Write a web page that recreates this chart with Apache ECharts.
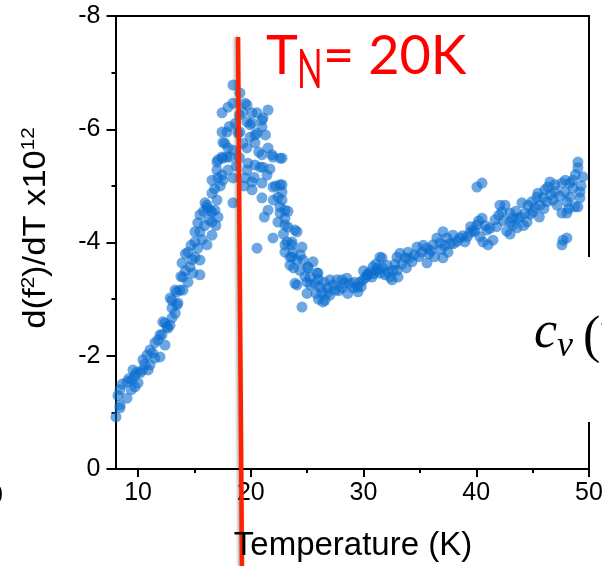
<!DOCTYPE html>
<html><head><meta charset="utf-8">
<script src="https://cdn.jsdelivr.net/npm/echarts@6/dist/echarts.min.js"></script>
<style>html,body{margin:0;padding:0;background:#fff;overflow:hidden}#c{width:602px;height:566px}</style>
</head><body><div id="c"></div>
<script>
// ---- tick labels ----
const xTicks = [10, 20, 30, 40, 50];
const xMinorTicks = [15, 25, 35, 45];

// ---- data: rising side (T in K, d(f^2)/dT x10^12) ----
const riseT = [8.04,8.40,8.40,8.40,9.02,9.02,9.46,9.73,10.00,9.55,9.90,10.44,10.90,11.06,10.79,11.50,11.06,11.95,11.50,11.77,12.39,11.95,12.12,12.57,12.39,12.65,13.01,12.83,13.01,13.45,13.01,13.54,13.45,13.99,8.22,8.60,9.20,9.40,10.20,10.60,13.72,13.28,12.85,14.43,13.99,14.87,15.49,14.61,13.90,15.49,15.05,14.43,16.12,15.05,16.56,15.05,15.49,16.56,15.49,17.09,16.38,16.82,16.12,15.94,16.12,16.56,17.00,16.56,17.45,16.56,17.09,17.53,17.00,17.98,17.00,17.09,17.45,17.53,17.89,18.16,17.98,18.42,17.53,17.45,17.89,17.45,17.98,18.42,18.42,18.42,18.42,18.87,14.20,14.80,15.30,15.70,15.90,16.30,16.80,17.30,16.90,17.70,18.10,15.80,15.30,14.70,14.20,13.80,13.30,12.20,11.30,10.40,9.70];
const riseV = [-0.92,-1.08,-1.13,-1.40,-1.25,-1.54,-1.57,-1.45,-1.52,-1.75,-1.71,-1.93,-1.75,-1.84,-2.01,-1.96,-2.10,-1.98,-2.23,-2.28,-2.19,-2.37,-2.37,-2.51,-2.58,-2.49,-2.67,-2.54,-2.84,-2.90,-2.98,-2.93,-3.13,-3.16,-1.30,-1.50,-1.60,-1.40,-1.70,-1.85,-3.16,-3.16,-3.02,-3.30,-3.39,-3.46,-3.43,-3.57,-3.64,-3.69,-3.74,-3.83,-3.96,-4.01,-4.13,-4.19,-4.19,-4.36,-4.49,-4.45,-4.57,-4.57,-4.66,-4.70,-4.61,-4.54,-4.75,-4.87,-5.19,-5.10,-5.14,-5.10,-5.28,-5.28,-5.42,-5.46,-5.51,-5.49,-5.51,-5.51,-5.67,-5.63,-5.77,-5.95,-5.95,-6.29,-6.39,-6.46,-6.78,-5.14,-4.70,-5.93,-3.50,-3.70,-3.90,-4.05,-4.30,-4.40,-4.95,-5.00,-4.30,-5.75,-6.05,-4.55,-4.35,-3.95,-3.80,-3.40,-2.75,-2.60,-2.05,-1.75,-1.65];

// ---- data: peak and drop ----
const peakT = [19.04,19.49,19.66,20.11,20.55,21.53,21.08,20.99,20.99,19.66,20.11,19.93,19.04,19.93,20.37,20.55,19.66,20.37,21.53,20.99,21.88,21.97,22.59,19.66,19.75,20.37,21.08,20.82,21.44,19.49,20.99,21.97,22.59,20.11,20.11,20.99,22.41,21.53,22.59,23.03,22.59,22.41,23.03,21.97,20.55,23.21,23.65,23.03,23.48,24.10,23.48,24.10,22.77,22.77,22.77,22.77,23.03,23.30,23.92,24.10,23.03,23.65,24.54,23.74,23.65,24.63,25.52,25.07,24.36,25.96,25.25,25.69,24.99,23.92,24.99,24.54,25.07,25.87,26.14,26.58,26.85,26.76,26.40,27.02,27.47,27.02,26.00,26.30,25.80,18.60,19.30,19.00,19.30,19.00,18.70,19.40,20.70,21.30,20.30,21.70,22.20,22.00,22.90,23.30,21.20,23.80,24.40,24.80,25.30,26.00,26.50];
const peakV = [-6.64,-6.46,-6.43,-6.29,-6.29,-6.34,-6.20,-6.16,-6.04,-6.13,-6.11,-6.08,-5.95,-5.86,-5.90,-5.93,-5.67,-5.76,-5.67,-5.55,-5.55,-5.51,-5.49,-5.28,-5.40,-5.37,-5.33,-5.33,-5.19,-5.14,-5.05,-4.98,-5.02,-5.07,-4.93,-4.79,-4.80,-4.57,-4.63,-4.57,-4.52,-4.36,-4.31,-4.08,-3.90,-4.01,-4.01,-3.83,-3.74,-3.69,-3.60,-3.25,-5.49,-5.02,-4.89,-4.75,-4.43,-4.27,-4.22,-4.19,-3.96,-3.96,-3.92,-3.83,-3.74,-3.69,-3.66,-3.57,-3.51,-3.46,-3.39,-3.28,-3.30,-3.28,-3.10,-2.86,-3.55,-3.46,-3.21,-2.98,-3.20,-3.11,-2.95,-3.07,-3.16,-3.34,-3.00,-3.12,-3.10,-6.10,-6.30,-6.25,-5.75,-5.50,-5.35,-5.00,-5.60,-5.90,-5.15,-5.30,-5.00,-4.75,-4.15,-4.55,-4.45,-3.55,-3.78,-3.40,-3.25,-3.35,-3.30];

// ---- data: plateau / slow rise ----
const plateauT = [27.64,28.09,28.53,28.80,28.09,29.06,29.42,29.51,29.69,29.95,30.31,30.39,30.57,30.75,30.84,31.19,31.28,31.46,31.64,31.46,31.90,32.08,32.35,32.53,32.61,32.97,32.97,33.06,33.23,33.68,33.94,34.30,34.74,35.18,35.63,35.63,36.16,36.51,36.78,37.05,37.40,37.05,37.49,37.93,38.55,39.00,39.44,40.06,40.51,39.71,40.33,40.95,40.59,41.04,41.48,41.66,40.06,40.51,42.10,42.55,42.28,42.99,43.26,42.99,43.70,43.61,43.26,44.05,44.32,44.59,44.94,44.50,45.03,45.38,45.47,45.65,45.91,46.09,46.36,46.54,46.27,46.98,46.80,47.16,47.60,47.87,48.04,47.60,48.04,48.31,48.57,48.57,48.75,49.20,49.20,49.02,49.02,49.02,49.46,48.31,48.04,47.60,47.69,30.00,30.20,30.90,31.10,31.70,32.20,32.80,33.40,33.80,34.00,34.50,34.90,35.30,35.80,36.00,36.30,36.90,37.20,37.70,38.00,38.30,38.80,39.20,39.50,39.90,40.20,40.80,41.20,41.80,42.00,42.40,42.70,43.00,43.50,43.90,44.20,44.80,45.20,45.60,46.00,46.60,47.00,47.40,47.90,48.20,48.80,49.30,27.30,27.80,28.30,28.60,29.20,29.80];
const plateauV = [-3.34,-3.34,-3.37,-3.28,-3.20,-3.20,-3.21,-3.13,-3.30,-3.34,-3.43,-3.43,-3.48,-3.39,-3.57,-3.51,-3.55,-3.74,-3.73,-3.46,-3.43,-3.60,-3.39,-3.34,-3.51,-3.74,-3.51,-3.39,-3.81,-3.73,-3.83,-3.66,-3.92,-3.83,-3.90,-3.64,-3.96,-4.08,-3.99,-4.19,-4.08,-3.73,-3.83,-4.13,-4.08,-4.01,-4.17,-4.31,-4.43,-4.22,-4.10,-4.22,-4.01,-3.96,-4.04,-4.40,-4.98,-5.05,-4.66,-4.66,-4.54,-4.52,-4.43,-4.36,-4.43,-4.26,-4.31,-4.70,-4.52,-4.66,-4.72,-4.36,-4.54,-4.80,-4.87,-4.66,-4.79,-4.93,-4.98,-5.07,-4.72,-5.02,-4.75,-4.66,-5.05,-4.89,-4.72,-4.52,-4.52,-4.80,-5.10,-4.96,-4.63,-4.89,-4.79,-4.63,-5.42,-5.32,-5.16,-5.05,-4.08,-3.96,-4.04,-3.50,-3.38,-3.45,-3.62,-3.55,-3.48,-3.62,-3.62,-3.55,-3.72,-3.78,-3.75,-3.95,-3.80,-3.86,-3.75,-3.88,-3.95,-3.98,-3.98,-4.02,-4.12,-4.10,-4.28,-4.20,-4.38,-4.30,-4.25,-4.28,-4.48,-4.38,-4.20,-4.15,-4.55,-4.45,-4.30,-4.50,-4.62,-4.45,-4.60,-4.85,-4.90,-4.82,-5.10,-4.60,-5.20,-5.00,-3.25,-3.15,-3.28,-3.10,-3.30,-3.22];

// ---- T_N marker line ----
const tnLineT = [18.87, 19.22];
const tnLineV = [-7.63, 1.72];

const zip = (a, b) => a.map((v, i) => [v, b[i]]);
const points = zip(riseT, riseV).concat(zip(peakT, peakV), zip(plateauT, plateauV));

const FONT = 'Liberation Sans';
const axisCommon = { type: 'value', min: 8, max: 50, splitLine: { show: false } };
const chart = echarts.init(document.getElementById('c'), null, { renderer: 'canvas' });
chart.setOption({
  animation: false,
  backgroundColor: '#fff',
  grid: { left: 115.5, right: 13, top: 16, bottom: 97, containLabel: false, outerBoundsMode: 'none' },
  xAxis: [
    Object.assign({}, axisCommon, {
      position: 'bottom',
      axisLine: { show: true, onZero: false, lineStyle: { color: '#000', width: 2 } },
      axisTick: { show: true, customValues: xTicks, length: 8, lineStyle: { color: '#000', width: 2 } },
      axisLabel: { show: true, customValues: xTicks, fontSize: 25, fontFamily: FONT, color: '#000', margin: 12 }
    }),
    Object.assign({}, axisCommon, {
      position: 'bottom',
      axisLine: { show: false, onZero: false },
      axisTick: { show: true, customValues: xMinorTicks, length: 4, lineStyle: { color: '#000', width: 2 } },
      axisLabel: { show: false }
    }),
    Object.assign({}, axisCommon, {
      position: 'top',
      axisLine: { show: true, onZero: false, lineStyle: { color: '#000', width: 2 } },
      axisTick: { show: false }, axisLabel: { show: false }
    })
  ],
  yAxis: [
    {
      type: 'value', min: -8, max: 0, interval: 2, inverse: true, position: 'left',
      axisLine: { show: true, onZero: false, lineStyle: { color: '#000', width: 2 } },
      axisTick: { show: true, length: 9, lineStyle: { color: '#000', width: 2 } },
      minorTick: { show: true, splitNumber: 2, length: 4, lineStyle: { color: '#000', width: 2 } },
      axisLabel: { fontSize: 25, fontFamily: FONT, color: '#000', margin: 15 },
      splitLine: { show: false }, minorSplitLine: { show: false }
    },
    {
      type: 'value', min: -8, max: 0, inverse: true, position: 'right',
      axisLine: { show: true, onZero: false, lineStyle: { color: '#000', width: 2 } },
      axisTick: { show: false }, axisLabel: { show: false }, splitLine: { show: false }
    }
  ],
  series: [
    {
      type: 'scatter', xAxisIndex: 0, yAxisIndex: 0, data: points, symbolSize: 11,
      itemStyle: { color: '#0a6ccf', opacity: 0.6 }, z: 3
    },
    {
      type: 'line', xAxisIndex: 0, yAxisIndex: 0, data: zip(tnLineT, tnLineV), symbol: 'none', clip: false,
      lineStyle: { color: '#ff2200', width: 4.5, shadowColor: 'rgba(0,0,0,0.35)', shadowBlur: 3, shadowOffsetX: -1.5 },
      z: 5
    }
  ],
  graphic: [
    { type: 'rect', shape: { x: 512, y: 257, width: 90, height: 165 }, style: { fill: '#fff' }, z: 100 },
    { type: 'text', x: 534, y: 359, z: 101, style: { text: 'c', fontSize: 52, fontStyle: 'italic', fontFamily: 'Liberation Serif', fill: '#000', textAlign: 'left', textVerticalAlign: 'bottom' } },
    { type: 'text', x: 557, y: 365, z: 101, style: { text: 'v', fontSize: 36, fontStyle: 'italic', fontFamily: 'Liberation Serif', fill: '#000', textAlign: 'left', textVerticalAlign: 'bottom' } },
    { type: 'text', x: 583, y: 338, z: 101, style: { text: '(', fontSize: 52, fontFamily: 'Liberation Serif', fill: '#000', textAlign: 'left', textVerticalAlign: 'middle' } },
    { type: 'text', x: 598, y: 338, z: 101, style: { text: 'T', fontSize: 52, fontStyle: 'italic', fontFamily: 'Liberation Serif', fill: '#000', textAlign: 'left', textVerticalAlign: 'middle' } },
    { type: 'text', x: 266, y: 57, z: 100, style: { text: 'T', fontSize: 54, fontFamily: 'Lato', fill: '#ff0000', textAlign: 'left', textVerticalAlign: 'middle' } },
    { type: 'text', x: 297, y: 71, scaleX: 0.62, z: 100, style: { text: 'N', fontSize: 54, fontFamily: 'Lato', fill: '#ff0000', textAlign: 'left', textVerticalAlign: 'middle' } },
    { type: 'text', x: 323, y: 57, z: 100, style: { text: '= 20K', fontSize: 54, fontFamily: 'Lato', fill: '#ff0000', textAlign: 'left', textVerticalAlign: 'middle' } },
    { type: 'text', x: 353, y: 546, z: 100, style: { text: 'Temperature (K)', fontSize: 33, fontFamily: FONT, fill: '#000', textAlign: 'center', textVerticalAlign: 'middle' } },
    { type: 'text', x: 36, y: 228, rotation: Math.PI / 2, scaleX: 1.08, z: 100, style: {
        text: '{m|d(f}{s|2}{m|)/dT x10}{s|12}', textAlign: 'center', textVerticalAlign: 'middle',
        rich: { m: { fontSize: 32, fontFamily: FONT, fill: '#000', lineHeight: 34 }, s: { fontSize: 19, fontFamily: FONT, fill: '#000', verticalAlign: 'top', lineHeight: 34 } } } },
    { type: 'text', x: 3, y: 496, z: 100, style: { text: '0', fontSize: 25, fontFamily: FONT, fill: '#000', textAlign: 'right', textVerticalAlign: 'middle' } }
  ]
});
</script></body></html>
